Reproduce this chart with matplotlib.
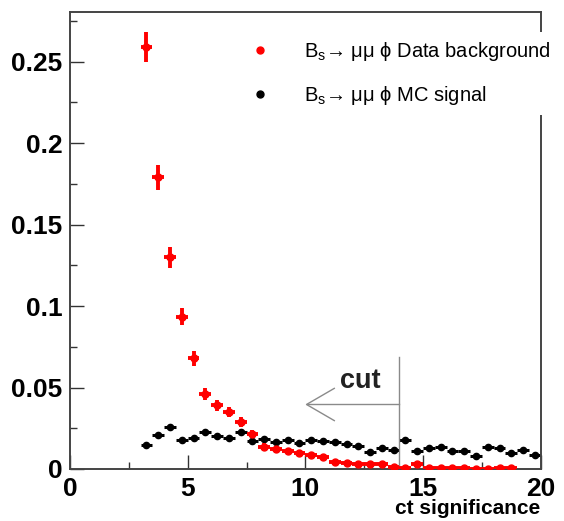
import matplotlib
matplotlib.use("Agg")
import matplotlib.pyplot as plt
import numpy as np
from matplotlib.lines import Line2D
from matplotlib.ticker import MultipleLocator

plt.rcParams['font.family'] = ['Liberation Sans', 'DejaVu Sans']
plt.rcParams['mathtext.fontset'] = 'custom'
plt.rcParams['mathtext.rm'] = 'Liberation Sans'

# ct significance bins (0.5 wide), bin centres
bkg_x = [3.25, 3.75, 4.25, 4.75, 5.25, 5.75, 6.25, 6.75, 7.25, 7.75,
         8.25, 8.75, 9.25, 9.75, 10.25, 10.75, 11.25, 11.75, 12.25, 12.75,
         13.25, 13.75, 14.25, 14.75, 15.25, 15.75, 16.25, 16.75, 17.25, 17.75,
         18.25, 18.75]
bkg_y = [0.259, 0.179, 0.130, 0.0935, 0.068, 0.046, 0.039, 0.035, 0.029, 0.0216,
         0.0136, 0.012, 0.011, 0.0098, 0.0083, 0.0072, 0.0042, 0.0038, 0.0033, 0.0032,
         0.0028, 0.0015, 0.0008, 0.003, 0.0008, 0.0005, 0.0008, 0.0005, 0.0003, 0.0003,
         0.0005, 0.0005]
bkg_err = [0.009, 0.0075, 0.0064, 0.0054, 0.0046, 0.0038, 0.0035, 0.0033, 0.003, 0.0026,
           0.0021, 0.0019, 0.0019, 0.0018, 0.0016, 0.0015, 0.0011, 0.0011, 0.001, 0.001,
           0.0009, 0.0007, 0.0005, 0.001, 0.0005, 0.0005, 0.0005, 0.0005, 0.0005, 0.0005,
           0.0005, 0.0005]

sig_x = [3.25, 3.75, 4.25, 4.75, 5.25, 5.75, 6.25, 6.75, 7.25, 7.75,
         8.25, 8.75, 9.25, 9.75, 10.25, 10.75, 11.25, 11.75, 12.25, 12.75,
         13.25, 13.75, 14.25, 14.75, 15.25, 15.75, 16.25, 16.75, 17.25, 17.75,
         18.25, 18.75, 19.25, 19.75]
sig_y = [0.0148, 0.021, 0.0256, 0.0181, 0.0191, 0.0226, 0.0201, 0.0191, 0.0226, 0.0169,
         0.0185, 0.0167, 0.0175, 0.0161, 0.0179, 0.0171, 0.0165, 0.0155, 0.014, 0.0107,
         0.0128, 0.0118, 0.0175, 0.0113, 0.0128, 0.0138, 0.0113, 0.0113, 0.0079, 0.0138,
         0.0128, 0.0099, 0.0118, 0.0089]
sig_err = [0.0013] * len(sig_x)

bin_half = 0.25
cut_value = 14

fig = plt.figure(figsize=(5.64, 5.21), dpi=100)
ax = fig.add_axes([70/564, 52/521, (540.7-70)/564, (469-11.7)/521])

ax.errorbar(bkg_x, bkg_y, xerr=bin_half, yerr=bkg_err, fmt='o', color='#ff0000',
            ms=5, elinewidth=2.8, capsize=0, zorder=3)
ax.errorbar(sig_x, sig_y, xerr=bin_half, yerr=sig_err, fmt='o', color='black',
            ms=4.5, elinewidth=2.2, capsize=0, zorder=2)

# cut marker
grey = '#8a8a8a'
ax.plot([cut_value, cut_value], [0, 0.069], color=grey, lw=1)
ax.plot([cut_value, 10.05], [0.0396, 0.0396], color=grey, lw=1)
ax.plot([11.23, 10.05, 11.23], [0.0495, 0.0396, 0.0297], color=grey, lw=1)
ax.text(12.32, 0.0495, 'cut', fontsize=19.5, fontweight='bold', ha='center',
        va='baseline', color='#222222')

ax.set_xlim(0, 20)
ax.set_ylim(0, 0.2807)
ax.xaxis.set_major_locator(MultipleLocator(5))
ax.xaxis.set_minor_locator(MultipleLocator(2.5))
ax.yaxis.set_major_locator(MultipleLocator(0.05))
ax.yaxis.set_minor_locator(MultipleLocator(0.025))
ax.set_yticks([0, 0.05, 0.1, 0.15, 0.2, 0.25])
ax.set_yticklabels(['0', '0.05', '0.1', '0.15', '0.2', '0.25'])
ax.tick_params(which='both', direction='in', top=False, right=False,
               color='#333333', width=1)
ax.tick_params(which='major', length=10, pad=5.5, labelsize=19)
ax.tick_params(which='minor', length=5)
for lab in ax.get_xticklabels() + ax.get_yticklabels():
    lab.set_fontweight('bold')
for sp in ax.spines.values():
    sp.set_color('#444444')
    sp.set_linewidth(1.4)

ax.set_xlabel('ct significance', loc='right', fontsize=15, fontweight='bold',
              labelpad=-1)

handles = [Line2D([], [], ls='none', marker='o', color='#ff0000', ms=5),
           Line2D([], [], ls='none', marker='o', color='black', ms=5)]
labels = [r'B$_{\rm s}$→ μμ ϕ Data background',
          r'B$_{\rm s}$→ μμ ϕ MC signal']
leg = fig.legend(handles, labels, loc='upper left', bbox_to_anchor=(242/564, 1 - 32/521),
                 frameon=True, facecolor='white', edgecolor='none', framealpha=1,
                 fontsize=14.5, handlelength=1.0, handletextpad=1.7,
                 labelspacing=1.05, borderpad=0.4, borderaxespad=0)
leg.set_zorder(10)

fig.savefig('out.png', dpi=100)
